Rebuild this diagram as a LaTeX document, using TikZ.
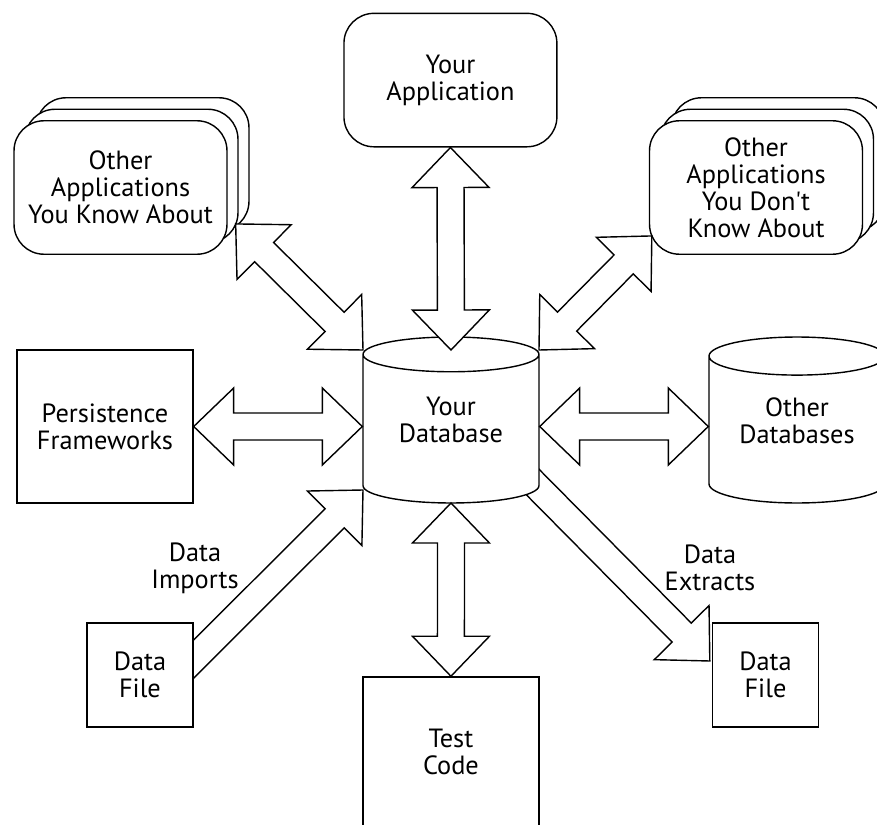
\documentclass[tikz,border=0pt]{standalone}
\usepackage{fontspec}
\setsansfont{PT Sans}[Ligatures=TeXOff]
\usetikzlibrary{shapes.geometric,calc,backgrounds}

% double block arrow from tip #1 to tip #2
\newcommand{\dblarrow}[2]{%
  \coordinate (ta) at (#1);
  \coordinate (tb) at (#2);
  \coordinate (ha) at ($(ta)!0.8cm!(tb)$);
  \coordinate (hb) at ($(tb)!0.8cm!(ta)$);
  \draw [blockarrow] (ta) -- ($(ha)!0.77cm!90:(tb)$) -- ($(ha)!0.27cm!90:(tb)$)
    -- ($(hb)!0.27cm!-90:(ta)$) -- ($(hb)!0.77cm!-90:(ta)$) -- (tb)
    -- ($(hb)!0.77cm!90:(ta)$) -- ($(hb)!0.27cm!90:(ta)$)
    -- ($(ha)!0.27cm!-90:(tb)$) -- ($(ha)!0.77cm!-90:(tb)$) -- cycle;}

% single block arrow from tail #1 to tip #2
\newcommand{\sglarrow}[2]{%
  \coordinate (ta) at (#1);
  \coordinate (tb) at (#2);
  \coordinate (hb) at ($(tb)!0.8cm!(ta)$);
  \draw [blockarrow] ($(ta)!0.27cm!90:(tb)$) -- ($(hb)!0.27cm!-90:(ta)$)
    -- ($(hb)!0.77cm!-90:(ta)$) -- (tb) -- ($(hb)!0.77cm!90:(ta)$)
    -- ($(hb)!0.27cm!90:(ta)$) -- ($(ta)!0.27cm!-90:(tb)$) -- cycle;}

\begin{document}
\begin{tikzpicture}[
    x=0.02cm, y=-0.02cm,
    node distance=6.92cm,
    font=\sffamily\fontsize{15}{15.4}\selectfont,
    box/.style={
		rectangle,
		draw=black,
		fill=white,
		line width=0.8pt,
		text centered,
		align=center
	},
    roundbox/.style={
		box,
		rounded corners=0.6cm,
		minimum width=4.26cm,
		minimum height=2.67cm
	},
    store/.style={
		cylinder,
		shape border rotate=90,
		aspect=0.3,
		anchor=shape center,
		draw=black,
		fill=white,
		line width=0.8pt,
		minimum width=3.52cm,
		minimum height=3.32cm,
		text depth=0.5cm,
		align=center
	},
    tag/.style={
		align=center
	},
    blockarrow/.style={
		draw=black,
		fill=white,
		line width=0.8pt,
		line join=miter
	}
  ]
  \clip (0,0) rectangle (877,825);

  % the database in the middle and its neighbours
  \node [store] (db) at (451,420) {Your\\Database};
  \node [store] (odb) at (797,420) {Other\\Databases};
  \node [box, minimum width=3.52cm, minimum height=3.06cm] (pers) at (105,426.5) {Persistence\\Frameworks};
  \node [box, below of=pers, xshift=6.92cm, node distance=6.51cm, minimum width=3.52cm, minimum height=3cm] (test) {Test\\Code};
  \node [roundbox, above of=pers, xshift=6.91cm, node distance=6.93cm] (app) {Your\\Application};

  % stacked application boxes
  \node [roundbox] (know3) at (142.5,164.5) {};
  \node [roundbox] (know2) at (131.5,176) {};
  \node [roundbox] (know) at (120.5,187.5) {Other\\Applications\\You Know About};

  \node [roundbox] (dont3) at (778,164.5) {};
  \node [roundbox] (dont2) at (767,176) {};
  \node [roundbox] (dont) at (756,187.5) {Other\\Applications\\You Don't\\Know About};

  % data files
  \node [box, minimum width=2.12cm, minimum height=2.08cm] (dfile) at (140,675) {Data\\File};
  \node [box, minimum width=2.12cm, minimum height=2.08cm] (dfile2) at (765.5,675) {Data\\File};

  \node [tag] (imp) at (195,568) {Data\\Imports};
  \node [tag] (ext) at (710,568) {Data\\Extracts};

  % one way arrows go under the boxes
  \begin{scope}[on background layer]
    \sglarrow{$(dfile.east)+(-20,4)$}{$(db.shape center)+(-88,70)$}
    \sglarrow{$(db.shape center)+(50,30)$}{$(dfile2.west)+(-2,-14)$}
  \end{scope}

  % two way arrows
  \dblarrow{app.south}{$(db.shape center)+(0,-70)$}
  \dblarrow{$(know.south east)+(8,-31)$}{$(db.shape center)+(-88,-70)$}
  \dblarrow{$(dont.south west)+(3,-19)$}{$(db.shape center)+(88,-70)$}
  \dblarrow{pers.east}{pers.east -| db.west}
  \dblarrow{pers.east -| db.east}{pers.east -| odb.west}
  \dblarrow{$(db.shape center)+(0,83)$}{test.north}

\end{tikzpicture}
\end{document}
